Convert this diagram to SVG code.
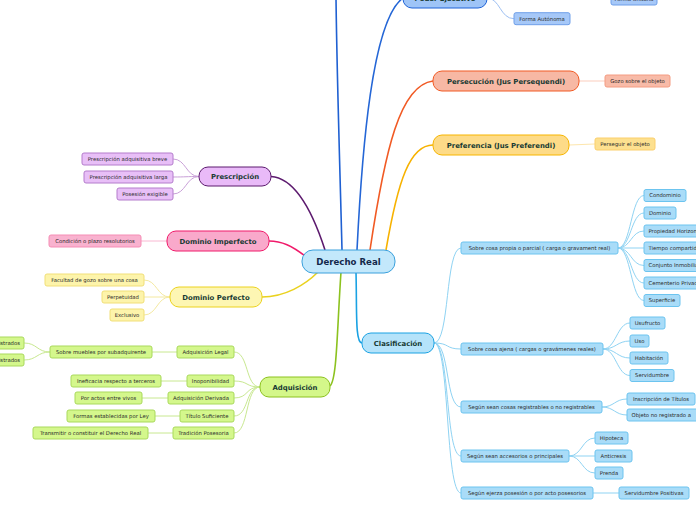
<svg xmlns="http://www.w3.org/2000/svg" width="696" height="520" viewBox="0 0 696 520">
<style>
text{font-family:"DejaVu Sans","Liberation Sans",sans-serif;}
.s{font-size:5.3px;fill:#2a2a2a;text-anchor:middle;}
.sl{font-size:5.3px;fill:#2a2a2a;text-anchor:start;}
.se{font-size:5.3px;fill:#2a2a2a;text-anchor:end;}
.m{font-size:6.9px;font-weight:bold;fill:#173a33;text-anchor:middle;}
.c{font-size:8.6px;font-weight:bold;fill:#14284b;text-anchor:middle;}
.cn path{fill:none;}
.main{stroke-width:1.6;}
.sub{stroke-width:1;}
rect{stroke-width:1;}
.bl rect{fill:#a6c8f8;stroke:#6f9fe9;}
.or rect{fill:#f8bba8;stroke:#f49c82;}
.ye rect{fill:#fde08f;stroke:#fbcf6c;}
.pu rect{fill:#e8bff7;stroke:#b47ccc;}
.pk rect{fill:#f9b2cf;stroke:#f58db5;}
.ly rect{fill:#fdf4ab;stroke:#f1df78;}
.gr rect{fill:#d4f78c;stroke:#a9d95c;}
.cy rect{fill:#a9dcf8;stroke:#6cc4ef;}
</style>
<g id="connectors" class="cn">
<path class="main" stroke="#1f60d2" d="M342,250 C340,170 337,80 336,-2"/>
<path class="main" stroke="#2466d6" d="M357,250 C362,150 372,20 403,-2"/>
<path class="main" stroke="#f15a24" d="M370,250 C385,150 400,85 433,81"/>
<path class="main" stroke="#f7b200" d="M386,250 C398,180 410,145 433,145"/>
<path class="main" stroke="#5c1a6e" d="M325,250 C312,210 295,178 271,176.5"/>
<path class="main" stroke="#f01a6a" d="M305,256 C292,246 282,241 269,241"/>
<path class="main" stroke="#ead21f" d="M318,272 C305,285 285,297 262,297"/>
<path class="main" stroke="#8cc21f" d="M341,272 C337,330 337,380 330,386"/>
<path class="main" stroke="#1aa2e3" d="M356,272 C357,310 355,343 362,343"/>
<g stroke="#9dbff2" class="sub">
<path d="M487,-2 C500,-2 500,18.7 514,18.7"/>
</g>
<g stroke="#fbcdbd" class="sub">
<path d="M579,81 L605,81"/>
</g>
<g stroke="#fde6ad" class="sub">
<path d="M569,145 L595,144"/>
</g>
<g stroke="#c9a0d8" class="sub">
<path d="M199,176.5 C186,176.5 186,159 173,159"/>
<path d="M199,176.5 C186,176.5 186,177 173,177"/>
<path d="M199,176.5 C186,176.5 186,194 173,194"/>
</g>
<g stroke="#f9b8d2" class="sub">
<path d="M167,241 L141,241"/>
</g>
<g stroke="#f4e9a0" class="sub">
<path d="M170,297 C157,297 157,280 144,280"/>
<path d="M170,297 L144,297"/>
<path d="M170,297 C157,297 157,315 144,315"/>
</g>
<g stroke="#c8e890" class="sub">
<path d="M260,387 C245,387 249,352 234,352"/>
<path d="M260,387 C245,387 249,381 234,381"/>
<path d="M260,387 C245,387 249,398 234,398"/>
<path d="M260,387 C245,387 249,416 234,416"/>
<path d="M260,387 C245,387 249,433 234,433"/>
<path d="M177,352 L152,352"/>
<path d="M50,352 C37,352 37,343 24,343"/>
<path d="M50,352 C37,352 37,360 24,360"/>
<path d="M187,381 L161,381"/>
<path d="M168,398 L142,398"/>
<path d="M180,416 L155,416"/>
<path d="M173,433 L148,433"/>
</g>
<g stroke="#8fd3f3" class="sub">
<path d="M434,343 C450,343 445,248 461,248"/>
<path d="M434,343 C450,343 445,349 461,349"/>
<path d="M434,343 C450,343 445,407 461,407"/>
<path d="M434,343 C450,343 445,456 461,456"/>
<path d="M434,343 C450,343 445,493 461,493"/>
<path d="M618,248 C631,248 631,195.5 644,195.5"/>
<path d="M618,248 C631,248 631,213 644,213"/>
<path d="M618,248 C631,248 631,231 644,231"/>
<path d="M618,248 L644,248"/>
<path d="M618,248 C631,248 631,265.5 644,265.5"/>
<path d="M618,248 C631,248 631,283 644,283"/>
<path d="M618,248 C631,248 631,300.5 644,300.5"/>
<path d="M603,349 C616,349 617,323 630,323"/>
<path d="M603,349 C616,349 617,341 630,341"/>
<path d="M603,349 C616,349 617,358 630,358"/>
<path d="M603,349 C616,349 617,375.5 630,375.5"/>
<path d="M602,407 C614,407 615,399 627,399"/>
<path d="M602,407 C614,407 615,415 627,415"/>
<path d="M569,456 C582,456 582,438 595,438"/>
<path d="M569,456 L595,456"/>
<path d="M569,456 C582,456 582,473 595,473"/>
<path d="M593,493 L619,493"/>
</g>
</g>
<g id="n-central"><rect x="302" y="250" width="93" height="23" rx="11" fill="#c3e8fb" stroke="#3aa0dc"/><text class="c" x="348.5" y="264.7">Derecho Real</text></g>
<g id="n-poder"><rect x="403" y="-13" width="84" height="21" rx="9" fill="#9ec4f7" stroke="#1f63d6"/><text class="m" x="445" y="1">Poder Ejecutivo</text></g>
<g id="n-autonoma" class="bl"><rect x="514" y="12.7" width="56" height="12" rx="2"/><text class="s" x="542" y="20.6">Forma Autónoma</text></g>
<g id="n-unitaria" class="bl"><rect x="611" y="-8" width="46" height="13" rx="2"/><text class="s" x="634" y="0.5">Forma Unitaria</text></g>
<g id="n-persecucion"><rect x="433" y="71" width="146" height="20" rx="9" fill="#f7b8a4" stroke="#f15a24"/><text class="m" x="506" y="83.5">Persecución (Jus Persequendi)</text></g>
<g id="n-gozo" class="or"><rect x="605" y="75" width="65" height="12" rx="2"/><text class="s" x="637.5" y="82.9">Gozo sobre el objeto</text></g>
<g id="n-preferencia"><rect x="433" y="135" width="136" height="20" rx="9" fill="#fddb88" stroke="#f7b500"/><text class="m" x="501" y="147.5">Preferencia (Jus Preferendi)</text></g>
<g id="n-perseguir" class="ye"><rect x="595" y="138" width="60" height="12" rx="2"/><text class="s" x="625" y="145.9">Perseguir el objeto</text></g>
<g id="n-prescripcion"><rect x="199" y="167" width="72" height="19" rx="9" fill="#e9baf8" stroke="#5c1a6e"/><text class="m" x="235" y="179">Prescripción</text></g>
<g id="n-pab" class="pu"><rect x="82" y="153" width="91" height="12" rx="2"/><text class="s" x="127.5" y="160.9">Prescripción adquisitiva breve</text></g>
<g id="n-pal" class="pu"><rect x="84" y="171" width="89" height="12" rx="2"/><text class="s" x="128.5" y="178.9">Prescripción adquisitiva larga</text></g>
<g id="n-pe" class="pu"><rect x="117" y="188" width="56" height="12" rx="2"/><text class="s" x="145" y="195.9">Posesión exigible</text></g>
<g id="n-dimp"><rect x="167" y="231" width="102" height="20" rx="9" fill="#f9a9cb" stroke="#f01a6a"/><text class="m" x="218" y="243.5">Dominio Imperfecto</text></g>
<g id="n-cond" class="pk"><rect x="49" y="235" width="92" height="12" rx="2"/><text class="s" x="95" y="242.9">Condición o plazo resolutorios</text></g>
<g id="n-dperf"><rect x="170" y="287" width="92" height="20" rx="9" fill="#fdf6b3" stroke="#ecd21f"/><text class="m" x="216" y="299.5">Dominio Perfecto</text></g>
<g id="n-fac" class="ly"><rect x="45" y="274" width="99" height="12" rx="2"/><text class="s" x="94.5" y="281.9">Facultad de gozo sobre una cosa</text></g>
<g id="n-perp" class="ly"><rect x="102" y="291" width="42" height="12" rx="2"/><text class="s" x="123" y="298.9">Perpetuidad</text></g>
<g id="n-excl" class="ly"><rect x="110" y="309" width="34" height="12" rx="2"/><text class="s" x="127" y="316.9">Exclusivo</text></g>
<g id="n-adq"><rect x="260" y="377" width="70" height="20" rx="9" fill="#d4f78a" stroke="#8cc21f"/><text class="m" x="295" y="389.5">Adquisición</text></g>
<g id="n-adql" class="gr"><rect x="177" y="346" width="57" height="12" rx="2"/><text class="s" x="205.5" y="353.9">Adquisición Legal</text></g>
<g id="n-smueb" class="gr"><rect x="50" y="346" width="102" height="12" rx="2"/><text class="s" x="101" y="353.9">Sobre muebles por subadquirente</text></g>
<g id="n-reg" class="gr"><rect x="-40" y="337" width="64" height="12" rx="2"/><text class="se" x="20" y="344.9">Registrados</text></g>
<g id="n-noreg" class="gr"><rect x="-40" y="354" width="64" height="12" rx="2"/><text class="se" x="20" y="361.9">No registrados</text></g>
<g id="n-inop" class="gr"><rect x="187" y="375" width="47" height="12" rx="2"/><text class="s" x="210.5" y="382.9">Inoponibilidad</text></g>
<g id="n-inef" class="gr"><rect x="71" y="375" width="90" height="12" rx="2"/><text class="s" x="116" y="382.9">Ineficacia respecto a terceros</text></g>
<g id="n-adqd" class="gr"><rect x="168" y="392" width="66" height="12" rx="2"/><text class="s" x="201" y="399.9">Adquisición Derivada</text></g>
<g id="n-actos" class="gr"><rect x="75" y="392" width="67" height="12" rx="2"/><text class="s" x="108.5" y="399.9">Por actos entre vivos</text></g>
<g id="n-titulo" class="gr"><rect x="180" y="410" width="54" height="12" rx="2"/><text class="s" x="207" y="417.9">Título Suficiente</text></g>
<g id="n-formas" class="gr"><rect x="67" y="410" width="88" height="12" rx="2"/><text class="s" x="111" y="417.9">Formas establecidas por Ley</text></g>
<g id="n-trad" class="gr"><rect x="173" y="427" width="61" height="12" rx="2"/><text class="s" x="203.5" y="434.9">Tradición Posesoria</text></g>
<g id="n-trans" class="gr"><rect x="33" y="427" width="115" height="12" rx="2"/><text class="s" x="90.5" y="434.9">Transmitir o constituir el Derecho Real</text></g>
<g id="n-clas"><rect x="362" y="333" width="72" height="20" rx="9" fill="#b5e3fa" stroke="#1aa2e3"/><text class="m" x="398" y="345.5">Clasificación</text></g>
<g id="n-propia" class="cy"><rect x="461" y="242" width="157" height="12" rx="2"/><text class="s" x="539.5" y="249.9">Sobre cosa propia o parcial ( carga o gravament real)</text></g>
<g id="n-condominio" class="cy"><rect x="644" y="189.5" width="42" height="12" rx="2"/><text class="s" x="665" y="197.4">Condominio</text></g>
<g id="n-dominio" class="cy"><rect x="644" y="207" width="32" height="12" rx="2"/><text class="s" x="660" y="214.9">Dominio</text></g>
<g id="n-prop" class="cy"><rect x="644" y="225" width="60" height="12" rx="2"/><text class="sl" x="648.5" y="232.9">Propiedad Horizontal</text></g>
<g id="n-tiempo" class="cy"><rect x="644" y="242" width="60" height="12" rx="2"/><text class="sl" x="648.5" y="249.9">Tiempo compartido</text></g>
<g id="n-conj" class="cy"><rect x="644" y="259.5" width="60" height="12" rx="2"/><text class="sl" x="648.5" y="267.4">Conjunto Inmobiliario</text></g>
<g id="n-cem" class="cy"><rect x="644" y="277" width="60" height="12" rx="2"/><text class="sl" x="648.5" y="284.9">Cementerio Privado</text></g>
<g id="n-sup" class="cy"><rect x="644" y="294.5" width="36" height="12" rx="2"/><text class="s" x="662" y="302.4">Superficie</text></g>
<g id="n-ajena" class="cy"><rect x="461" y="343" width="142" height="12" rx="2"/><text class="s" x="532" y="350.9">Sobre cosa ajena ( cargas o gravámenes reales)</text></g>
<g id="n-usuf" class="cy"><rect x="630" y="317" width="35" height="12" rx="2"/><text class="s" x="647.5" y="324.9">Usufructo</text></g>
<g id="n-uso" class="cy"><rect x="630" y="335" width="19" height="12" rx="2"/><text class="s" x="639.5" y="342.9">Uso</text></g>
<g id="n-hab" class="cy"><rect x="630" y="352" width="38" height="12" rx="2"/><text class="s" x="649" y="359.9">Habitación</text></g>
<g id="n-serv" class="cy"><rect x="630" y="369.5" width="44" height="12" rx="2"/><text class="s" x="652" y="377.4">Servidumbre</text></g>
<g id="n-regis" class="cy"><rect x="461" y="401" width="141" height="12" rx="2"/><text class="s" x="531.5" y="408.9">Según sean cosas registrables o no registrables</text></g>
<g id="n-insc" class="cy"><rect x="627" y="393" width="68" height="12" rx="2"/><text class="s" x="661" y="400.9">Inscripción de Títulos</text></g>
<g id="n-objeto" class="cy"><rect x="627" y="409" width="80" height="12" rx="2"/><text class="sl" x="631.5" y="416.9">Objeto no registrado a</text></g>
<g id="n-acc" class="cy"><rect x="461" y="450" width="108" height="12" rx="2"/><text class="s" x="515" y="457.9">Según sean accesorios o principales</text></g>
<g id="n-hip" class="cy"><rect x="595" y="432" width="33" height="12" rx="2"/><text class="s" x="611.5" y="439.9">Hipoteca</text></g>
<g id="n-anti" class="cy"><rect x="595" y="450" width="37" height="12" rx="2"/><text class="s" x="613.5" y="457.9">Anticresis</text></g>
<g id="n-prenda" class="cy"><rect x="595" y="467" width="28" height="12" rx="2"/><text class="s" x="609" y="474.9">Prenda</text></g>
<g id="n-ejerza" class="cy"><rect x="461" y="487" width="132" height="12" rx="2"/><text class="s" x="527" y="494.9">Según ejerza posesión o por acto posesorios</text></g>
<g id="n-servpos" class="cy"><rect x="619" y="487" width="70" height="12" rx="2"/><text class="s" x="654" y="494.9">Servidumbre Positivas</text></g>
</svg>
